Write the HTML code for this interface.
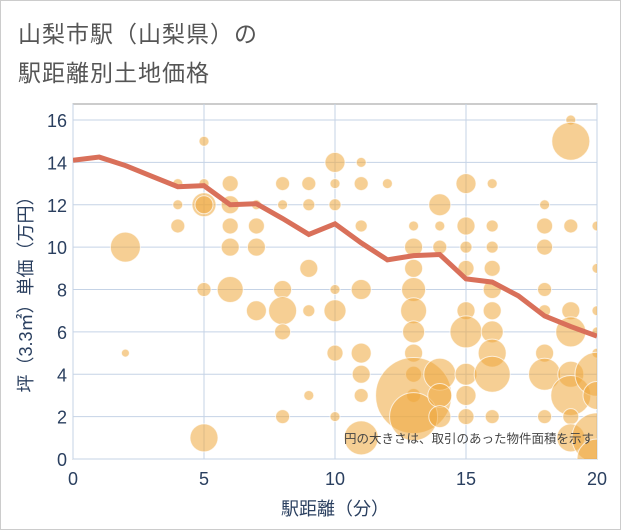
<!DOCTYPE html>
<html><head><meta charset="utf-8"><style>
body{margin:0;background:#fff;}
#wrap{position:relative;width:619px;height:528px;border:1px solid #ccc;background:#fff;font-family:"Liberation Sans","Noto Sans CJK JP",sans-serif;}
.t{position:absolute;left:17px;color:#555;font-size:23px;letter-spacing:1px;}
</style></head><body>
<div id="wrap">
<div class="t" style="top:14px">山梨市駅（山梨県）の</div>
<div class="t" style="top:53px">駅距離別土地価格</div>
<svg id="chart" width="621" height="530" style="position:absolute;left:-1px;top:-1px"></svg>
</div>
<script>
const xTicks=[0,5,10,15,20];
const yTicks=[0,2,4,6,8,10,12,14,16];
const lineX=[0,1,2,3,4,5,6,7,8,9,10,11,12,13,14,15,16,17,18,19,20];
const lineY=[14.1,14.25,13.85,13.35,12.85,12.9,12.0,12.05,11.35,10.6,11.1,10.2,9.4,9.6,9.65,8.5,8.35,7.7,6.75,6.25,5.8];
const bubX=[2,2,4,4,4,5,5,5,5,5,5,6,6,6,6,6,7,7,7,7,8,8,8,8,8,8,9,9,9,9,9,10,10,10,10,10,10,10,11,11,11,11,11,11,11,11,12,13,13,13,13,13,13,13,13,13,13,13,14,14,14,14,14,14,15,15,15,15,15,15,15,15,15,16,16,16,16,16,16,16,16,16,16,18,18,18,18,18,18,18,18,19,19,19,19,19,19,19,19,19,20,20,20,20,20,20,20,20,20];
const bubY=[10,5,13,12,11,15,13,12,12,8,1,13,12,11,10,8,12,11,10,7,13,12,8,7,6,2,13,12,9,7,3,14,13,12,8,7,5,2,14,13,11,8,5,4,3,1,13,11,10,9,8,7,6,5,4,3,3,2,12,11,10,4,3,2,13,11,10,9,7,6,4,3,2,13,11,10,9,8,7,6,5,4,2,12,11,10,8,7,5,4,2,16,15,11,7,6,4,3,2,1,11,9,7,6,5,4,3,1,0];
const bubR=[15,4,5,5,7,5,5,12,9,7,14,8,9,8,9,13,5,8,9,10,7,5,9,14,8,7,7,6,9,6,5,10,5,6,5,11,8,5,5,7,6,10,10,9,7,17,5,5,9,9,12,13,11,9,8,7,38,24,11,5,7,16,12,11,10,9,6,8,9,16,11,10,8,5,6,6,8,9,9,11,14,18,7,5,8,8,7,6,9,16,7,5,19,7,9,15,13,20,8,14,5,5,5,5,5,22,14,25,20];
const L=73,R=597,T=104,B=459;
const xs=v=>L+(v-0)/20*(R-L);
const ys=v=>B-(v-0)/16*(B-120);
const svg=document.getElementById('chart');
const NS='http://www.w3.org/2000/svg';
function mk(tag,attrs){const e=document.createElementNS(NS,tag);for(const k in attrs)e.setAttribute(k,attrs[k]);svg.appendChild(e);return e;}
const defs=document.createElementNS(NS,'defs');defs.innerHTML='<clipPath id="pc"><rect x="'+L+'" y="'+T+'" width="'+(R-L)+'" height="'+(B-T)+'"/></clipPath>';svg.appendChild(defs);
let bg=mk('rect',{x:L,y:T,width:R-L,height:B-T,fill:'#fff',stroke:'#999','stroke-width':1});


xTicks.forEach(v=>{let g=mk('line',{x1:xs(v),x2:xs(v),y1:T,y2:B,stroke:'#c5d3e6','stroke-width':1});


let t=mk('text',{x:xs(v),y:B+26,'text-anchor':'middle','font-size':18,fill:'#2a3f5f','font-family':'Liberation Sans, sans-serif'});t.textContent=v;

});
yTicks.forEach(v=>{let g=mk('line',{x1:L,x2:R,y1:ys(v),y2:ys(v),stroke:'#c5d3e6','stroke-width':1});


let t=mk('text',{x:L-6,y:ys(v)+7,'text-anchor':'end','font-size':18,fill:'#2a3f5f','font-family':'Liberation Sans, sans-serif'});t.textContent=v;

});
const gB=document.createElementNS(NS,'g');gB.setAttribute('clip-path','url(#pc)');svg.appendChild(gB);


bubX.forEach((x,i)=>{const c=document.createElementNS(NS,'circle');c.setAttribute('cx',xs(x));c.setAttribute('cy',ys(bubY[i]));c.setAttribute('r',bubR[i]);c.setAttribute('fill','rgba(238,168,60,0.55)');c.setAttribute('stroke','rgba(255,255,255,0.7)');c.setAttribute('stroke-width','1');


gB.appendChild(c);});
let ln=document.createElementNS(NS,'polyline');ln.setAttribute('points',lineX.map((x,i)=>xs(x)+','+ys(lineY[i])).join(' '));ln.setAttribute('fill','none');ln.setAttribute('stroke','#d9705a');ln.setAttribute('stroke-width','5');ln.setAttribute('clip-path','url(#pc)');svg.appendChild(ln);


let note=mk('text',{x:594,y:443,'text-anchor':'end','font-size':12.5,fill:'#444','font-family':'Liberation Sans, Noto Sans CJK JP, sans-serif'});note.textContent='円の大きさは、取引のあった物件面積を示す';


let xt=mk('text',{x:335,y:515,'text-anchor':'middle','font-size':18,fill:'#2a3f5f','font-family':'Liberation Sans, Noto Sans CJK JP, sans-serif'});xt.textContent='駅距離（分）';


let yt=mk('text',{x:0,y:0,'text-anchor':'middle','font-size':18,fill:'#2a3f5f','font-family':'Liberation Sans, Noto Sans CJK JP, sans-serif',transform:'translate(32,290) rotate(-90)'});yt.textContent='坪（3.3㎡）単価（万円）';


</script>
</body></html>
